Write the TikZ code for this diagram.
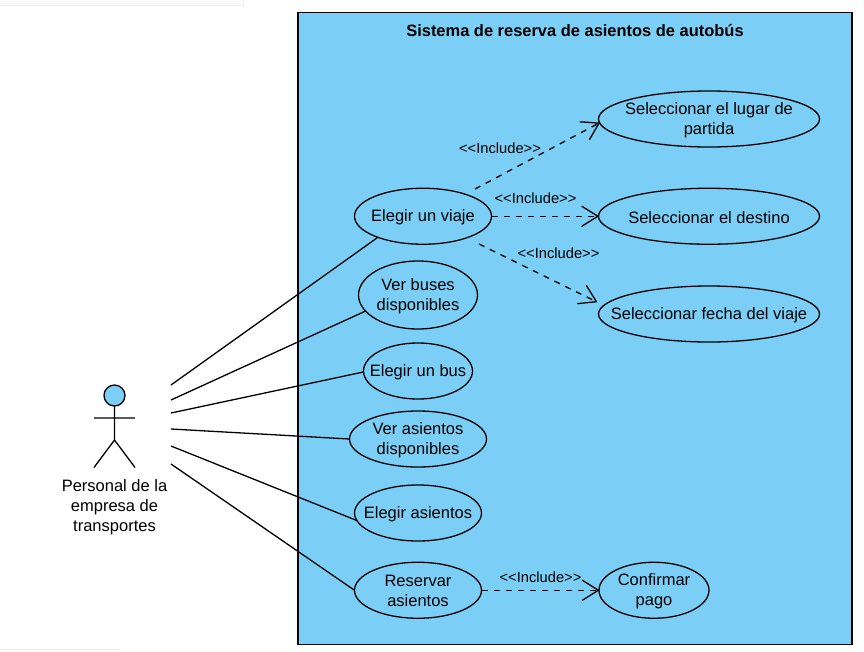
\documentclass[tikz,border=0pt]{standalone}
\usepackage{fontspec}
\setmainfont{Liberation Sans}
\usetikzlibrary{shapes.geometric,arrows.meta}
\definecolor{sysblue}{HTML}{7BCFF6}
\newcommand{\incl}{<\kern0pt<Include>\kern0pt>}
\tikzset{
  lw/.style={line width=1.3pt,draw=black},
  uc/.style n args={3}{ellipse,lw,inner sep=0pt,outer sep=0pt,minimum width=#1pt,minimum height=#2pt,
    label={[align=center,inner sep=0pt,yshift=-1.1pt,font=\fontsize{16.5}{20}\selectfont]center:#3}},
  assoc/.style={lw},
  incdep/.style={lw,dash pattern=on 6pt off 6pt,-{Straight Barb[length=16pt,width=20pt,line width=1.3pt,round]}},
  inclab/.style={font=\fontsize{14.7}{16}\selectfont,inner sep=0pt},
}
\begin{document}
\begin{tikzpicture}[x=1pt,y=-1pt]
\useasboundingbox (0,0) rectangle (864,651);
\fill[white] (0,0) rectangle (864,651);
% faint page remnants
\fill[black!1.5] (0,0) rectangle (243,5);
\draw[black!7,line width=0.8pt] (0,5.3) -- (243.5,5.3) -- (243.5,0);
\draw[black!7,line width=0.8pt] (0,649.8) -- (120,649.8);
% system
\node[rectangle,lw,fill=sysblue,minimum width=554pt,minimum height=632pt,inner sep=0pt,outer sep=0pt] (sys) at (575,328.5) {};
\node[font=\bfseries\fontsize{16.45}{20}\selectfont,inner sep=0pt] (title) at (575,30.5) {Sistema de reserva de asientos de autobús};
% use cases
\node[uc={137}{56}{Elegir un viaje}] (viaje) at (423,216.25) {};
\node[uc={119}{68}{Ver buses\\disponibles}] (buses) at (418,295) {};
\node[uc={109}{56}{Elegir un bus}] (bus) at (418,371) {};
\node[uc={137}{56}{Ver asientos\\disponibles}] (verasi) at (418,439) {};
\node[uc={127}{56}{Elegir asientos}] (elegasi) at (418,513) {};
\node[uc={127}{56}{Reservar\\asientos}] (reservar) at (418,590.25) {};
\node[uc={110}{56}{Confirmar\\pago}] (pago) at (654,590.25) {};
\node[uc={221}{56}{Seleccionar el lugar de\\partida}] (lugar) at (709,119) {};
\node[uc={221}{56}{Seleccionar el destino}] (destino) at (709,216.25) {};
\node[uc={221}{56}{Seleccionar fecha del viaje}] (fecha) at (709,314) {};
% actor
\node[circle,lw,fill=sysblue,minimum size=21pt,inner sep=0pt,outer sep=0pt] (head) at (114.5,395.5) {};
\coordinate (hip) at (114.5,440);
\coordinate (armL) at (94,418);
\coordinate (armR) at (135,418);
\coordinate (legL) at (94,467.5);
\coordinate (legR) at (135,467.5);
\draw[lw] (head) -- (hip) (armL) -- (armR) (legL) -- (hip) -- (legR);
\node[align=center,inner sep=0pt,font=\fontsize{16.5}{20}\selectfont] (actor) at (114.5,507) {Personal de la\\empresa de\\transportes};
% associations
\coordinate (a1) at (171,385);
\coordinate (a2) at (171,400);
\coordinate (a3) at (171,413);
\coordinate (a4) at (171,429);
\coordinate (a5) at (171,446);
\coordinate (a6) at (171,464);
\draw[assoc] (a1) -- (viaje.205);
\draw[assoc] (a2) -- (buses.197);
\draw[assoc] (a3) -- (bus.181);
\draw[assoc] (a4) -- (verasi.west);
\draw[assoc] (a5) -- (elegasi.187);
\draw[assoc] (a6) -- (reservar.west);
% includes
\coordinate (s1) at (475,189);
\coordinate (s3) at (479,244);
\coordinate (t3) at (597,302);
\draw[incdep] (s1) -- (lugar.182);
\draw[incdep] (viaje.east) -- (destino.west);
\draw[incdep] (s3) -- (t3);
\draw[incdep] (reservar.east) -- (pago.west);
\node[inclab] (l1) at (500,148) {\incl};
\node[inclab] (l2) at (535.5,198) {\incl};
\node[inclab] (l3) at (558.5,253) {\incl};
\node[inclab] (l4) at (540.5,577) {\incl};
\end{tikzpicture}
\end{document}
